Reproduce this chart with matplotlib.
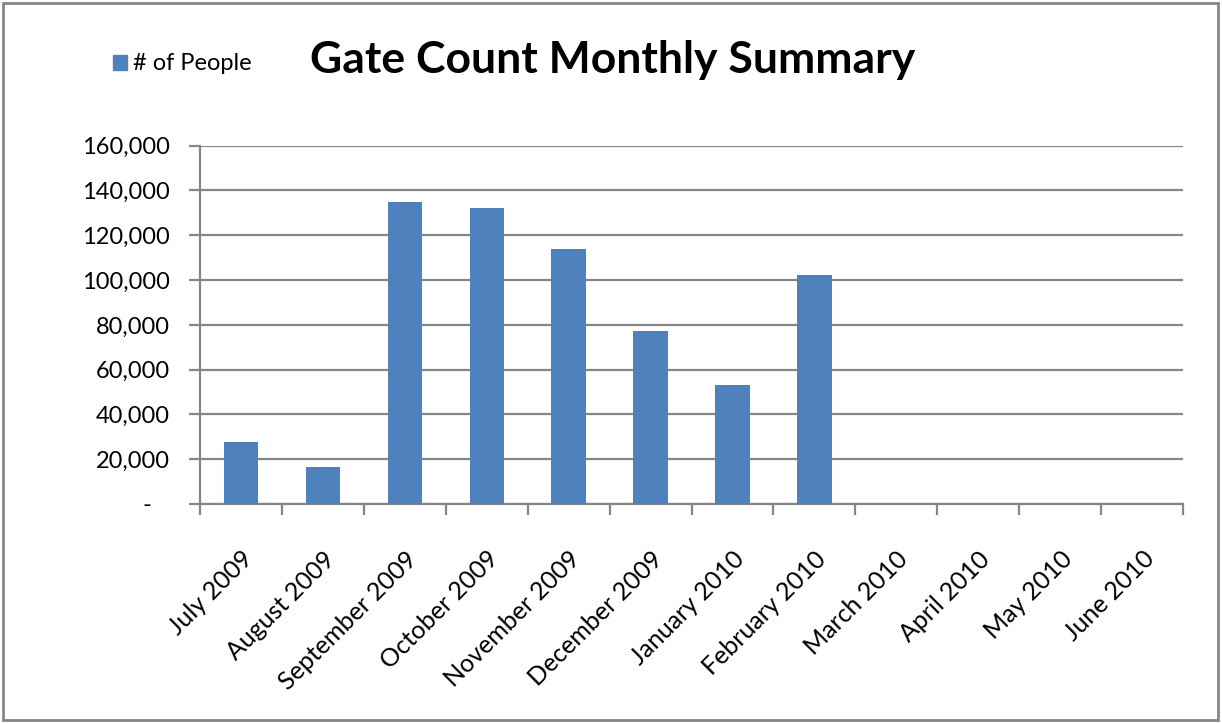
import matplotlib
matplotlib.use("Agg")
import matplotlib.pyplot as plt
from matplotlib.patches import Rectangle
from matplotlib.ticker import FuncFormatter, FixedLocator
import numpy as np

months = ["July 2009", "August 2009", "September 2009", "October 2009",
          "November 2009", "December 2009", "January 2010", "February 2010",
          "March 2010", "April 2010", "May 2010", "June 2010"]
people = [27700, 16500, 134800, 132100, 113800, 77200, 53100, 102200,
          0, 0, 0, 0]
y_ticks = [0, 20000, 40000, 60000, 80000, 100000, 120000, 140000, 160000]

BAR = "#4F81BD"
GRID = "#868686"

plt.rcParams["font.family"] = ["Lato", "DejaVu Sans"]

fig = plt.figure(figsize=(12.22, 7.23), dpi=100)
ax = fig.add_axes([200 / 1222, 1 - 504 / 723, 983 / 1222, (504 - 145.7) / 723])

x = np.arange(len(months))
ax.bar(x, people, width=0.42, color=BAR, zorder=3)

ax.set_xlim(-0.5, len(months) - 0.5)
ax.set_ylim(0, 160000)
ax.yaxis.set_major_locator(FixedLocator(y_ticks))
ax.yaxis.set_major_formatter(FuncFormatter(lambda v, p: "-   " if v == 0 else f"{int(v):,}"))
ax.grid(axis="y", color=GRID, linewidth=1.6, zorder=0)

# category labels centred, tick marks on the boundaries
ax.set_xticks(x)
ax.set_xticklabels(months, rotation=45, ha="right", rotation_mode="anchor")
ax.set_xticks(np.arange(-0.5, len(months)), minor=True)
ax.tick_params(axis="x", which="major", length=0, pad=31, labelsize=18)
ax.tick_params(axis="x", which="minor", length=8, width=1.6, color=GRID)
ax.tick_params(axis="y", length=8, width=1.6, color=GRID, pad=14, labelsize=17)

for side in ("top", "right"):
    ax.spines[side].set_visible(False)
for side in ("left", "bottom"):
    ax.spines[side].set_color(GRID)
    ax.spines[side].set_linewidth(1.6)

fig.text(613 / 1222, 1 - 60 / 723, "Gate Count Monthly Summary",
         ha="center", va="center", fontsize=32, fontweight="bold")

# legend
fig.patches.append(Rectangle((113 / 1222, 1 - 70 / 723), 14 / 1222, 15 / 723,
                             transform=fig.transFigure, color=BAR))
fig.text(133 / 1222, 1 - 63 / 723, "# of People", ha="left", va="center",
         fontsize=17)

# chart border
fig.patches.append(Rectangle((3 / 1222, 3 / 723), 1215 / 1222, 717 / 723,
                             transform=fig.transFigure, fill=False,
                             edgecolor=GRID, linewidth=2))

fig.savefig("out.png", dpi=100)
